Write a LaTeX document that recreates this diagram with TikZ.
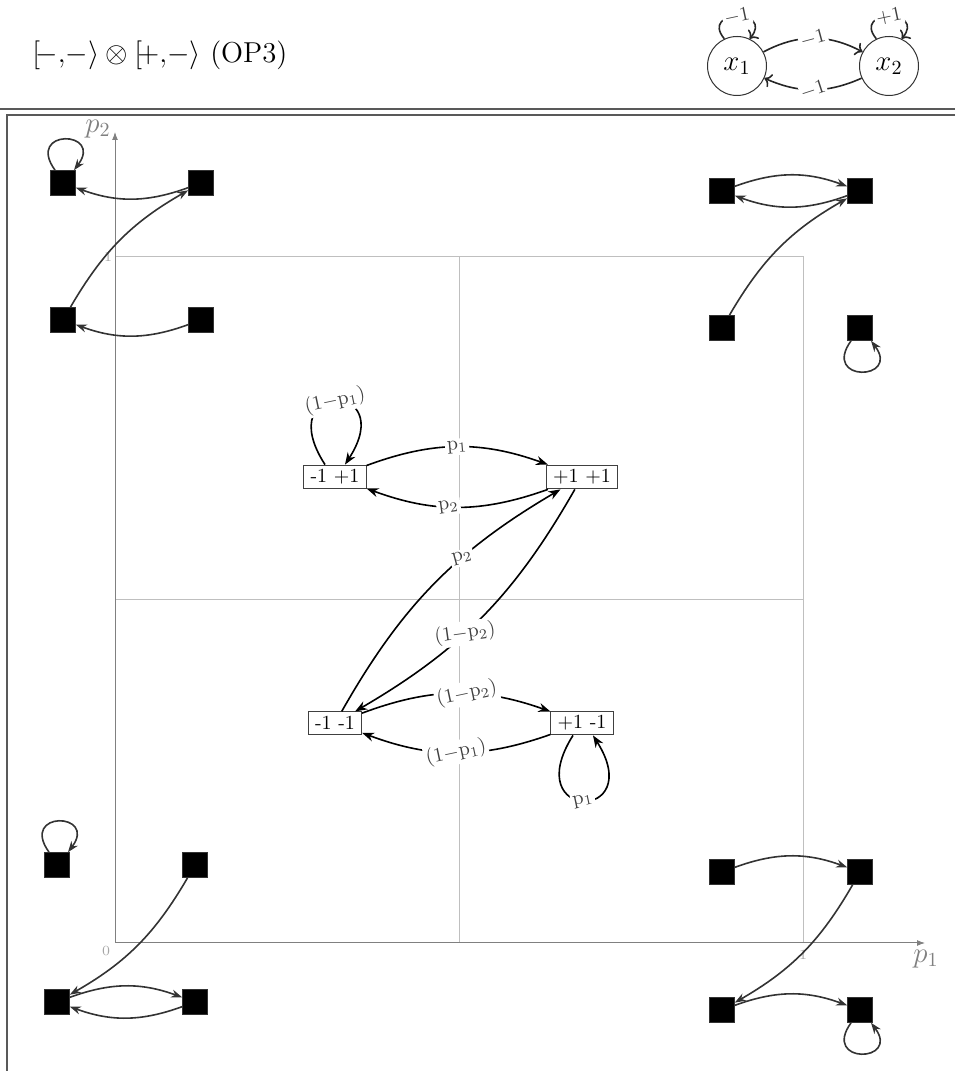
\documentclass[tikz,border=0pt]{standalone}
\usetikzlibrary{arrows.meta,calc}
\begin{document}
\begin{tikzpicture}[x=0.5pt,y=0.5pt,
  frame/.style={black!65, line width=0.8pt},
  grid/.style={black!25, line width=0.5pt},
  axis/.style={black!50, line width=0.5pt, -{Latex[length=4pt,width=3pt]}},
  axlab/.style={text=black!50, font=\Large, inner sep=0pt},
  ticklab/.style={text=black!35, font=\scriptsize, inner sep=0pt},
  state/.style={draw=black!75, fill=white, line width=0.5pt, inner xsep=3.3pt, inner ysep=2.2pt},
  sq/.style={fill=black, draw=black!80, line width=0.3pt, minimum size=12.5pt, inner sep=0pt},
  ce/.style={black, line width=0.8pt, -{Stealth[length=6pt,width=4.5pt]}},
  me/.style={black!80, line width=0.8pt, -{Stealth[length=5.5pt,width=4pt]}},
  te/.style={black!85, line width=0.8pt, ->},
  lab/.style={fill=white, inner sep=1pt, text=black!75, rotate=12},
  circ/.style={draw=black!80, circle, minimum size=29.5pt, inner sep=0pt, font=\Large, line width=0.5pt}
]
\useasboundingbox (0,0) rectangle (955,1071);

% title
\node[anchor=west, font=\Large, inner sep=0pt] (title) at (32,1016) {$[\!-{,}-\rangle\otimes[\!+{,}-\rangle$ (OP3)};

% small graph top right
\node[circ] (x1) at (737,1005) {$x_1$};
\node[circ] (x2) at (889,1005) {$x_2$};
\draw[te] (x1) to[bend left=28] node[lab,rotate=3]{$-1$} (x2);
\draw[te] (x2) to[bend left=24] node[lab,rotate=6,inner sep=0.5pt]{$-1$} (x1);
\draw[te] (x1.115) .. controls +(-25,30) and +(25,30) .. node[lab]{$-1$} (x1.65);
\draw[te] (x2.115) .. controls +(-25,30) and +(25,30) .. node[lab]{$+1$} (x2.65);

% frame
\draw[frame] (0,962) -- (955,962);
\draw[frame] (955,956) -- (7,956) -- (7,0);

% grid and axes
\draw[grid] (115,128) rectangle (803,814);
\draw[grid] (459,128) -- (459,814);
\draw[grid] (115,471) -- (803,471);
\draw[axis] (115,128) -- (925,128);
\draw[axis] (115,128) -- (115,939);
\node[axlab] (p1) at (926,112) {$p_1$};
\node[axlab] (p2) at (98,942) {$p_2$};
\node[ticklab] (t0) at (106,120) {0};
\node[ticklab] (t1x) at (803,116) {1};
\node[ticklab] (t1y) at (108,814) {1};

% corner group A (p1=0,p2=1)
\node[sq] (amp) at (63,888) {};
\node[sq] (app) at (201,888) {};
\node[sq] (amm) at (63,751) {};
\node[sq] (apm) at (201,751) {};
\draw[me] ($(amp.north)+(-8,0)$) .. controls +(-30,42) and +(30,40) .. ($(amp.north)+(11,0)$);
\draw[me] (app) to[bend left=20] (amp);
\draw[me] (amm) to[bend left=15] (app);
\draw[me] (apm) to[bend left=20] (amm);

% corner group B (p1=1,p2=1)
\node[sq] (bmp) at (722,880) {};
\node[sq] (bpp) at (860,880) {};
\node[sq] (bmm) at (722,743) {};
\node[sq] (bpm) at (860,743) {};
\draw[me] (bmp) to[bend left=20] (bpp);
\draw[me] (bpp) to[bend left=20] (bmp);
\draw[me] (bmm) to[bend left=15] (bpp);
\draw[me] ($(bpm.south)+(-9,0)$) .. controls +(-30,-42) and +(30,-40) .. ($(bpm.south)+(11,0)$);

% corner group C (p1=0,p2=0)
\node[sq] (cmp) at (57,206) {};
\node[sq] (cpp) at (195,206) {};
\node[sq] (cmm) at (57,69) {};
\node[sq] (cpm) at (195,69) {};
\draw[me] ($(cmp.north)+(-8,0)$) .. controls +(-30,42) and +(30,40) .. ($(cmp.north)+(11,0)$);
\draw[me] (cpp) to[bend left=15] (cmm);
\draw[me] (cmm) to[bend left=20] (cpm);
\draw[me] (cpm) to[bend left=20] (cmm);

% corner group D (p1=1,p2=0)
\node[sq] (dmp) at (722,199) {};
\node[sq] (dpp) at (860,199) {};
\node[sq] (dmm) at (722,61) {};
\node[sq] (dpm) at (860,61) {};
\draw[me] (dmp) to[bend left=20] (dpp);
\draw[me] (dpp) to[bend left=15] (dmm);
\draw[me] (dmm) to[bend left=20] (dpm);
\draw[me] ($(dpm.south)+(-9,0)$) .. controls +(-30,-42) and +(30,-40) .. ($(dpm.south)+(11,0)$);

% center graph
\node[state] (nmp) at (335,594) {-1 +1};
\node[state] (npp) at (582,594) {+1 +1};
\node[state] (nmm) at (335,348) {-1 -1};
\node[state] (npm) at (582,348) {+1 -1};
\draw[ce] (nmp) to[bend left=20] node[lab,rotate=-7]{$\mathrm{p}_1$} (npp);
\draw[ce] (npp) to[bend left=20] node[lab,pos=0.55,rotate=-4]{$\mathrm{p}_2$} (nmp);
\draw[ce] (nmm) to[bend left=15] node[lab,pos=0.63,rotate=3]{$\mathrm{p}_2$} (npp);
\draw[ce] (npp) to[bend left=15] node[lab,pos=0.58,rotate=-4]{$(1{-}\mathrm{p}_2)$} (nmm);
\draw[ce] (nmm) to[bend left=20] node[lab,pos=0.56]{$(1{-}\mathrm{p}_2)$} (npm);
\draw[ce] (npm) to[bend left=20] node[lab]{$(1{-}\mathrm{p}_1)$} (nmm);
\draw[ce] ($(nmp.north)+(-10,0)$) .. controls +(-55,85) and +(55,85) .. node[lab]{$(1{-}\mathrm{p}_1)$} ($(nmp.north)+(10,0)$);
\draw[ce] ($(npm.south)+(-9,0)$) .. controls +(-55,-87) and +(55,-87) .. node[lab]{$\mathrm{p}_1$} ($(npm.south)+(11,0)$);
\end{tikzpicture}
\end{document}
